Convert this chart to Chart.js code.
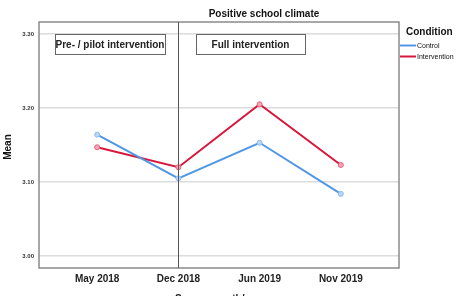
<!DOCTYPE html>
<html>
<head>
<meta charset="utf-8">
<script src="https://cdn.jsdelivr.net/npm/chart.js@4"></script>
<style>
  html, body { margin: 0; padding: 0; background: #fff; }
  #wrap { width: 461px; height: 296px; position: relative; }
</style>
</head>
<body>
<div id="wrap"><canvas id="chart"></canvas></div>
<script>
var months = ['May 2018', 'Dec 2018', 'Jun 2019', 'Nov 2019'];
var controlValues = [3.164, 3.105, 3.153, 3.084];
var interventionValues = [3.147, 3.120, 3.205, 3.123];
var yTicks = [3.00, 3.10, 3.20, 3.30];

// extra drawing: title, legend, phase line and boxes, axis titles
var extras = {
  id: 'extras',
  afterDraw: function (chart) {
    var ctx = chart.ctx;
    var area = chart.chartArea;
    var x = chart.scales.x;
    ctx.save();

    // plot border
    ctx.strokeStyle = '#8a8a8a';
    ctx.lineWidth = 1.5;
    ctx.strokeRect(area.left, area.top, area.right - area.left, area.bottom - area.top);

    // phase divider at Dec 2018
    var xd = Math.round(x.getPixelForValue(1)) + 0.5;
    ctx.strokeStyle = '#555';
    ctx.lineWidth = 1;
    ctx.beginPath();
    ctx.moveTo(xd, area.top);
    ctx.lineTo(xd, area.bottom);
    ctx.stroke();

    // phase boxes
    ctx.font = 'bold 10px Arial, "Liberation Sans", sans-serif';
    ctx.textAlign = 'center';
    ctx.textBaseline = 'middle';
    var boxes = [
      { text: 'Pre- / pilot intervention', x0: 55, x1: 165 },
      { text: 'Full intervention', x0: 196, x1: 305 }
    ];
    boxes.forEach(function (b) {
      ctx.fillStyle = '#fff';
      ctx.fillRect(b.x0, 34, b.x1 - b.x0, 20);
      ctx.strokeStyle = '#666';
      ctx.strokeRect(b.x0 + 0.5, 34.5, b.x1 - b.x0, 20);
      ctx.fillStyle = '#222';
      ctx.fillText(b.text, (b.x0 + b.x1) / 2, 45);
    });

    // title
    ctx.font = 'bold 10px Arial, "Liberation Sans", sans-serif';
    ctx.fillStyle = '#111';
    ctx.fillText('Positive school climate', 264, 14);

    // legend
    ctx.textAlign = 'left';
    ctx.font = 'bold 10px Arial, "Liberation Sans", sans-serif';
    ctx.fillText('Condition', 406, 32);
    ctx.font = '7px Arial, "Liberation Sans", sans-serif';
    ctx.lineWidth = 2;
    ctx.strokeStyle = '#4f97e6';
    ctx.beginPath(); ctx.moveTo(400, 45.5); ctx.lineTo(416, 45.5); ctx.stroke();
    ctx.fillText('Control', 417, 46);
    ctx.strokeStyle = '#d9163c';
    ctx.beginPath(); ctx.moveTo(400, 56.5); ctx.lineTo(416, 56.5); ctx.stroke();
    ctx.fillText('Intervention', 417, 57);

    // y axis title
    ctx.font = 'bold 10px Arial, "Liberation Sans", sans-serif';
    ctx.textAlign = 'center';
    ctx.translate(8, 147);
    ctx.rotate(-Math.PI / 2);
    ctx.fillText('Mean', 0, 0);
    ctx.setTransform(1, 0, 0, 1, 0, 0);

    // x axis title (cut off at the bottom edge)
    ctx.textBaseline = 'top';
    ctx.fillText('Survey month/year', 220, 294);
    ctx.restore();
  }
};

new Chart(document.getElementById('chart'), {
  type: 'line',
  data: {
    datasets: [
      {
        label: 'Control',
        data: controlValues.map(function (v, i) { return { x: i, y: v }; }),
        borderColor: '#4f97e6',
        backgroundColor: '#b9d6f5',
        pointBorderColor: '#8cbcf0',
        borderWidth: 2,
        pointRadius: 2.5,
        pointBorderWidth: 1
      },
      {
        label: 'Intervention',
        data: interventionValues.map(function (v, i) { return { x: i, y: v }; }),
        borderColor: '#d9163c',
        backgroundColor: '#f2a7b5',
        pointBorderColor: '#e8607a',
        borderWidth: 2,
        pointRadius: 2.5,
        pointBorderWidth: 1
      }
    ]
  },
  options: {
    responsive: true,
    maintainAspectRatio: false,
    animation: false,
    layout: { padding: { top: 22, right: 62, left: 0, bottom: 0 } },
    plugins: {
      legend: { display: false },
      title: { display: false },
      tooltip: { enabled: false }
    },
    scales: {
      x: {
        type: 'linear',
        min: -0.716,
        max: 3.716,
        afterBuildTicks: function (axis) {
          axis.ticks = months.map(function (m, i) { return { value: i }; });
        },
        afterFit: function (axis) { axis.height = 28; },
        grid: { display: false, drawTicks: false },
        border: { display: false },
        ticks: {
          padding: 5,
          maxRotation: 0,
          color: '#222',
          font: { family: 'Arial, "Liberation Sans", sans-serif', size: 10, weight: 'bold' },
          callback: function (v) { return months[v]; }
        }
      },
      y: {
        min: 2.984,
        max: 3.316,
        afterBuildTicks: function (axis) {
          axis.ticks = yTicks.map(function (v) { return { value: v }; });
        },
        afterFit: function (axis) { axis.width = 39; },
        grid: { color: '#dcdcdc', lineWidth: 1.5, drawTicks: false },
        border: { display: false },
        ticks: {
          padding: 5,
          color: '#333',
          font: { family: 'Arial, "Liberation Sans", sans-serif', size: 6, weight: 'bold' },
          callback: function (v) { return v.toFixed(2); }
        }
      }
    }
  },
  plugins: [extras]
});
</script>
</body>
</html>
